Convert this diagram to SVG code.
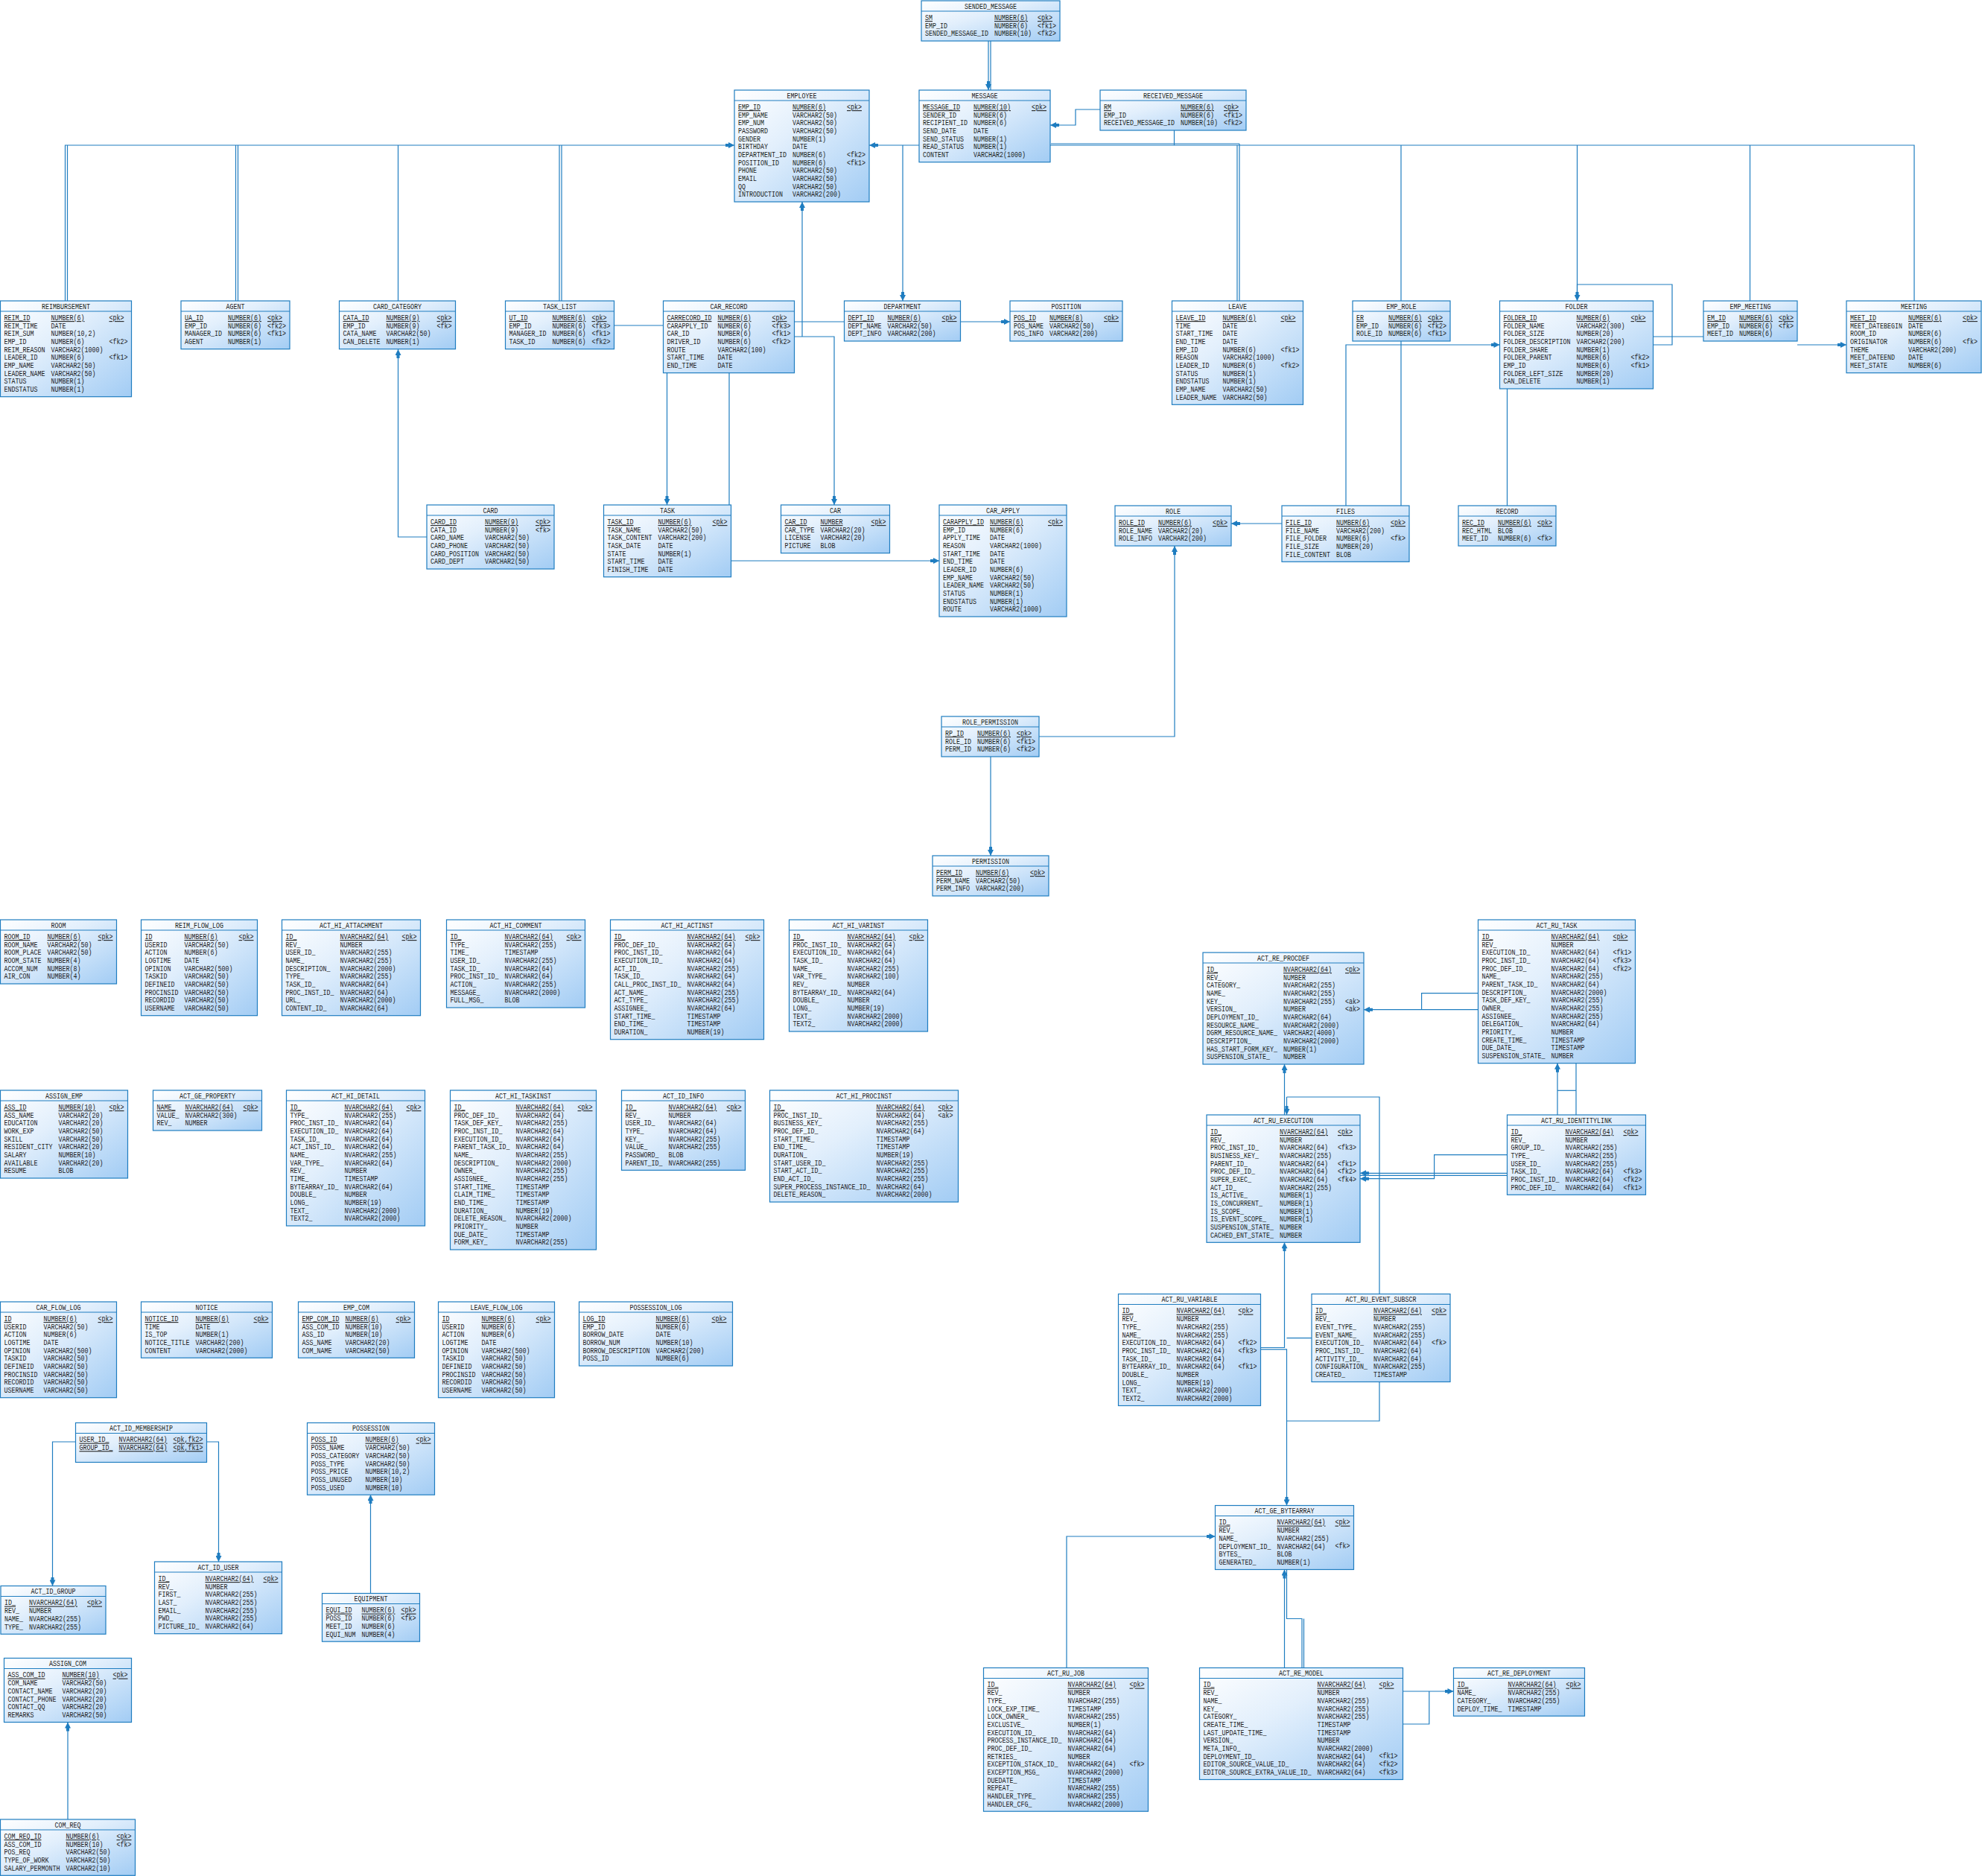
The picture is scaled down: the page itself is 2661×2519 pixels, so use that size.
<svg xmlns="http://www.w3.org/2000/svg" width="2661" height="2519" viewBox="0 0 2661 2519">
<style>
.tb rect.b{fill:url(#gb);stroke:#1f7dc0;stroke-width:1.2}
.tb line{stroke:#1f7dc0;stroke-width:1.2}
.tb text{font-family:"Liberation Mono","DejaVu Sans Mono",monospace;font-size:10.5px;fill:#1c1c1c;transform-box:fill-box;transform-origin:0 0;transform:scaleX(0.794)}
.tb text.h{text-anchor:middle;transform-origin:50% 0}
.u{text-decoration:underline}
#connectors path{fill:none;stroke:#1f7dc0;stroke-width:1.2}
</style>
<defs>
<linearGradient id="gb" x1="0" y1="0" x2="1" y2="1">
<stop offset="0" stop-color="#ffffff"/><stop offset="0.4" stop-color="#e2effc"/><stop offset="1" stop-color="#a2ccf4"/>
</linearGradient>
<marker id="ar" viewBox="0 0 12 8" refX="12" refY="4" markerWidth="12" markerHeight="8" markerUnits="userSpaceOnUse" orient="auto">
<path d="M0,2 H4 V0 L12,4 L4,8 V6 H0 z" fill="#1f7dc0"/>
</marker>
</defs>
<rect width="2661" height="2519" fill="#ffffff"/>

<g id="connectors">
<!-- employee bus, left side -->
<path d="M87.5,404 V195 H986" marker-end="url(#ar)"/>
<path d="M90.5,404 V195"/>
<path d="M316.5,404 V195"/>
<path d="M319.5,404 V195"/>
<path d="M534.5,404 V195"/>
<path d="M751,404 V195"/>
<path d="M754,404 V195"/>
<!-- employee bus, right side -->
<path d="M2570,404 V195 H1167" marker-end="url(#ar)"/>
<path d="M1411,193 H1664"/>
<path d="M1212,195 V404" marker-end="url(#ar)"/>
<path d="M1661,195 V404"/>
<path d="M1664,193 V404"/>
<path d="M1881,195 V404"/>
<path d="M2117.5,195 V404" marker-end="url(#ar)"/>
<path d="M2349.5,195 V404"/>
<path d="M1576.5,175 V195"/>
<!-- messages -->
<path d="M1327,55 V121" marker-end="url(#ar)"/>
<path d="M1330,55 V121"/>
<path d="M1477,147 H1444 V168 H1410" marker-end="url(#ar)"/>
<!-- employee bottom / car record -->
<path d="M1077,452 V271" marker-end="url(#ar)"/>
<path d="M1067,432 H1356" marker-end="url(#ar)"/>
<path d="M1067,452 H1120 V678" marker-end="url(#ar)"/>
<path d="M823,437 H895.5 V678" marker-end="url(#ar)"/>
<path d="M979,500 V753 H1261" marker-end="url(#ar)"/>
<path d="M573,721 H534.5 V469" marker-end="url(#ar)"/>
<!-- roles, files, folders, meetings -->
<path d="M1881,458 V703 H1653" marker-end="url(#ar)"/>
<path d="M1395,989 H1577 V733" marker-end="url(#ar)"/>
<path d="M1330,1016 V1149" marker-end="url(#ar)"/>
<path d="M1807,679 V463 H2013.5" marker-end="url(#ar)"/>
<path d="M2219.5,463 H2245 V382 H2117.5 V404"/>
<path d="M2023.5,679 V452 H2287"/>
<path d="M2413,463 H2479" marker-end="url(#ar)"/>
<!-- identity tables, possessions, companies -->
<path d="M101.5,1936 H70.5 V2129.5" marker-end="url(#ar)"/>
<path d="M277.5,1936 H293.5 V2097" marker-end="url(#ar)"/>
<path d="M497.5,2139.5 V2007" marker-end="url(#ar)"/>
<path d="M91,2443 V2312.5" marker-end="url(#ar)"/>
<!-- runtime / repository tables -->
<path d="M1984.5,1355.7 H1831" marker-end="url(#ar)"/>
<path d="M1984.5,1333.7 H1908.6 V1355.7"/>
<path d="M1724.5,1497 V1429" marker-end="url(#ar)"/>
<path d="M1727.5,1473 V1497" marker-end="url(#ar)"/>
<path d="M1852,1737.5 V1473 H1727.5"/>
<path d="M2023.5,1575.3 H1826" marker-end="url(#ar)"/>
<path d="M2023.5,1578.3 H1826"/>
<path d="M2023.5,1550.7 H1925.6 V1582.7 H1826" marker-end="url(#ar)"/>
<path d="M2091,1497 V1427.7" marker-end="url(#ar)"/>
<path d="M2116,1427.7 V1497"/>
<path d="M2091,1464.3 H2116"/>
<path d="M1692.5,1809.5 H1724.5 V1668.3" marker-end="url(#ar)"/>
<path d="M1692.5,1811.8 H1727.5 V2021.5" marker-end="url(#ar)"/>
<path d="M1761,1796.7 H1727.5"/>
<path d="M1852,1855.5 V1908 H1727.5"/>
<path d="M1432,2239.5 V2063 H1631.5" marker-end="url(#ar)"/>
<path d="M1724.5,2239.5 V2107.5" marker-end="url(#ar)"/>
<path d="M1748,2239.5 V2173.5 H1727.5 V2107.5"/>
<path d="M1750.5,2239.5 V2173.5"/>
<path d="M1883.5,2271 H1951.5" marker-end="url(#ar)"/>
<path d="M1883.5,2315 H1918.8 V2271"/>
</g>

<g id="sended_message" class="tb" transform="translate(1237,1)">
<rect class="b" width="186" height="54"/><line y1="14" x2="186" y2="14"/>
<text class="h" x="93" y="10.8">SENDED_MESSAGE</text>
<text x="5" y="26"><tspan class="u">SM</tspan><tspan x="5" dy="10.67">EMP_ID</tspan><tspan x="5" dy="10.67">SENDED_MESSAGE_ID</tspan></text>
<text x="98" y="26"><tspan class="u">NUMBER(6)</tspan><tspan x="98" dy="10.67">NUMBER(6)</tspan><tspan x="98" dy="10.67">NUMBER(10)</tspan></text>
<text x="156" y="26"><tspan class="u">&lt;pk&gt;</tspan><tspan x="156" dy="10.67">&lt;fk1&gt;</tspan><tspan x="156" dy="10.67">&lt;fk2&gt;</tspan></text>
</g>

<g id="employee" class="tb" transform="translate(986,121)">
<rect class="b" width="181" height="150"/><line y1="14" x2="181" y2="14"/>
<text class="h" x="90.5" y="10.8">EMPLOYEE</text>
<text x="5" y="26"><tspan class="u">EMP_ID</tspan><tspan x="5" dy="10.67">EMP_NAME</tspan><tspan x="5" dy="10.67">EMP_NUM</tspan><tspan x="5" dy="10.67">PASSWORD</tspan><tspan x="5" dy="10.67">GENDER</tspan><tspan x="5" dy="10.67">BIRTHDAY</tspan><tspan x="5" dy="10.67">DEPARTMENT_ID</tspan><tspan x="5" dy="10.67">POSITION_ID</tspan><tspan x="5" dy="10.67">PHONE</tspan><tspan x="5" dy="10.67">EMAIL</tspan><tspan x="5" dy="10.67">QQ</tspan><tspan x="5" dy="10.67">INTRODUCTION</tspan></text>
<text x="78" y="26"><tspan class="u">NUMBER(6)</tspan><tspan x="78" dy="10.67">VARCHAR2(50)</tspan><tspan x="78" dy="10.67">VARCHAR2(50)</tspan><tspan x="78" dy="10.67">VARCHAR2(50)</tspan><tspan x="78" dy="10.67">NUMBER(1)</tspan><tspan x="78" dy="10.67">DATE</tspan><tspan x="78" dy="10.67">NUMBER(6)</tspan><tspan x="78" dy="10.67">NUMBER(6)</tspan><tspan x="78" dy="10.67">VARCHAR2(50)</tspan><tspan x="78" dy="10.67">VARCHAR2(50)</tspan><tspan x="78" dy="10.67">VARCHAR2(50)</tspan><tspan x="78" dy="10.67">VARCHAR2(200)</tspan></text>
<text x="151" y="26"><tspan class="u">&lt;pk&gt;</tspan><tspan x="151" y="90">&lt;fk2&gt;</tspan><tspan x="151" y="100.67">&lt;fk1&gt;</tspan></text>
</g>

<g id="message" class="tb" transform="translate(1234,121)">
<rect class="b" width="176" height="96.7"/><line y1="14" x2="176" y2="14"/>
<text class="h" x="88" y="10.8">MESSAGE</text>
<text x="5" y="26"><tspan class="u">MESSAGE_ID</tspan><tspan x="5" dy="10.67">SENDER_ID</tspan><tspan x="5" dy="10.67">RECIPIENT_ID</tspan><tspan x="5" dy="10.67">SEND_DATE</tspan><tspan x="5" dy="10.67">SEND_STATUS</tspan><tspan x="5" dy="10.67">READ_STATUS</tspan><tspan x="5" dy="10.67">CONTENT</tspan></text>
<text x="73" y="26"><tspan class="u">NUMBER(10)</tspan><tspan x="73" dy="10.67">NUMBER(6)</tspan><tspan x="73" dy="10.67">NUMBER(6)</tspan><tspan x="73" dy="10.67">DATE</tspan><tspan x="73" dy="10.67">NUMBER(1)</tspan><tspan x="73" dy="10.67">NUMBER(1)</tspan><tspan x="73" dy="10.67">VARCHAR2(1000)</tspan></text>
<text x="151" y="26"><tspan class="u">&lt;pk&gt;</tspan></text>
</g>

<g id="received_message" class="tb" transform="translate(1477,121)">
<rect class="b" width="196" height="54"/><line y1="14" x2="196" y2="14"/>
<text class="h" x="98" y="10.8">RECEIVED_MESSAGE</text>
<text x="5" y="26"><tspan class="u">RM</tspan><tspan x="5" dy="10.67">EMP_ID</tspan><tspan x="5" dy="10.67">RECEIVED_MESSAGE_ID</tspan></text>
<text x="108" y="26"><tspan class="u">NUMBER(6)</tspan><tspan x="108" dy="10.67">NUMBER(6)</tspan><tspan x="108" dy="10.67">NUMBER(10)</tspan></text>
<text x="166" y="26"><tspan class="u">&lt;pk&gt;</tspan><tspan x="166" dy="10.67">&lt;fk1&gt;</tspan><tspan x="166" dy="10.67">&lt;fk2&gt;</tspan></text>
</g>

<g id="reimbursement" class="tb" transform="translate(0.5,404)">
<rect class="b" width="176" height="128.7"/><line y1="14" x2="176" y2="14"/>
<text class="h" x="88" y="10.8">REIMBURSEMENT</text>
<text x="5" y="26"><tspan class="u">REIM_ID</tspan><tspan x="5" dy="10.67">REIM_TIME</tspan><tspan x="5" dy="10.67">REIM_SUM</tspan><tspan x="5" dy="10.67">EMP_ID</tspan><tspan x="5" dy="10.67">REIM_REASON</tspan><tspan x="5" dy="10.67">LEADER_ID</tspan><tspan x="5" dy="10.67">EMP_NAME</tspan><tspan x="5" dy="10.67">LEADER_NAME</tspan><tspan x="5" dy="10.67">STATUS</tspan><tspan x="5" dy="10.67">ENDSTATUS</tspan></text>
<text x="68" y="26"><tspan class="u">NUMBER(6)</tspan><tspan x="68" dy="10.67">DATE</tspan><tspan x="68" dy="10.67">NUMBER(10,2)</tspan><tspan x="68" dy="10.67">NUMBER(6)</tspan><tspan x="68" dy="10.67">VARCHAR2(1000)</tspan><tspan x="68" dy="10.67">NUMBER(6)</tspan><tspan x="68" dy="10.67">VARCHAR2(50)</tspan><tspan x="68" dy="10.67">VARCHAR2(50)</tspan><tspan x="68" dy="10.67">NUMBER(1)</tspan><tspan x="68" dy="10.67">NUMBER(1)</tspan></text>
<text x="146" y="26"><tspan class="u">&lt;pk&gt;</tspan><tspan x="146" y="58">&lt;fk2&gt;</tspan><tspan x="146" y="79.33">&lt;fk1&gt;</tspan></text>
</g>

<g id="agent" class="tb" transform="translate(243,404)">
<rect class="b" width="146" height="64.7"/><line y1="14" x2="146" y2="14"/>
<text class="h" x="73" y="10.8">AGENT</text>
<text x="5" y="26"><tspan class="u">UA_ID</tspan><tspan x="5" dy="10.67">EMP_ID</tspan><tspan x="5" dy="10.67">MANAGER_ID</tspan><tspan x="5" dy="10.67">AGENT</tspan></text>
<text x="63" y="26"><tspan class="u">NUMBER(6)</tspan><tspan x="63" dy="10.67">NUMBER(6)</tspan><tspan x="63" dy="10.67">NUMBER(6)</tspan><tspan x="63" dy="10.67">NUMBER(1)</tspan></text>
<text x="116" y="26"><tspan class="u">&lt;pk&gt;</tspan><tspan x="116" dy="10.67">&lt;fk2&gt;</tspan><tspan x="116" dy="10.67">&lt;fk1&gt;</tspan></text>
</g>

<g id="card_category" class="tb" transform="translate(455.5,404)">
<rect class="b" width="156" height="64.7"/><line y1="14" x2="156" y2="14"/>
<text class="h" x="78" y="10.8">CARD_CATEGORY</text>
<text x="5" y="26"><tspan class="u">CATA_ID</tspan><tspan x="5" dy="10.67">EMP_ID</tspan><tspan x="5" dy="10.67">CATA_NAME</tspan><tspan x="5" dy="10.67">CAN_DELETE</tspan></text>
<text x="63" y="26"><tspan class="u">NUMBER(9)</tspan><tspan x="63" dy="10.67">NUMBER(9)</tspan><tspan x="63" dy="10.67">VARCHAR2(50)</tspan><tspan x="63" dy="10.67">NUMBER(1)</tspan></text>
<text x="131" y="26"><tspan class="u">&lt;pk&gt;</tspan><tspan x="131" dy="10.67">&lt;fk&gt;</tspan></text>
</g>

<g id="task_list" class="tb" transform="translate(678.5,404)">
<rect class="b" width="146" height="64.7"/><line y1="14" x2="146" y2="14"/>
<text class="h" x="73" y="10.8">TASK_LIST</text>
<text x="5" y="26"><tspan class="u">UT_ID</tspan><tspan x="5" dy="10.67">EMP_ID</tspan><tspan x="5" dy="10.67">MANAGER_ID</tspan><tspan x="5" dy="10.67">TASK_ID</tspan></text>
<text x="63" y="26"><tspan class="u">NUMBER(6)</tspan><tspan x="63" dy="10.67">NUMBER(6)</tspan><tspan x="63" dy="10.67">NUMBER(6)</tspan><tspan x="63" dy="10.67">NUMBER(6)</tspan></text>
<text x="116" y="26"><tspan class="u">&lt;pk&gt;</tspan><tspan x="116" dy="10.67">&lt;fk3&gt;</tspan><tspan x="116" dy="10.67">&lt;fk1&gt;</tspan><tspan x="116" dy="10.67">&lt;fk2&gt;</tspan></text>
</g>

<g id="car_record" class="tb" transform="translate(890.5,404)">
<rect class="b" width="176" height="96.7"/><line y1="14" x2="176" y2="14"/>
<text class="h" x="88" y="10.8">CAR_RECORD</text>
<text x="5" y="26"><tspan class="u">CARRECORD_ID</tspan><tspan x="5" dy="10.67">CARAPPLY_ID</tspan><tspan x="5" dy="10.67">CAR_ID</tspan><tspan x="5" dy="10.67">DRIVER_ID</tspan><tspan x="5" dy="10.67">ROUTE</tspan><tspan x="5" dy="10.67">START_TIME</tspan><tspan x="5" dy="10.67">END_TIME</tspan></text>
<text x="73" y="26"><tspan class="u">NUMBER(6)</tspan><tspan x="73" dy="10.67">NUMBER(6)</tspan><tspan x="73" dy="10.67">NUMBER(6)</tspan><tspan x="73" dy="10.67">NUMBER(6)</tspan><tspan x="73" dy="10.67">VARCHAR2(100)</tspan><tspan x="73" dy="10.67">DATE</tspan><tspan x="73" dy="10.67">DATE</tspan></text>
<text x="146" y="26"><tspan class="u">&lt;pk&gt;</tspan><tspan x="146" dy="10.67">&lt;fk3&gt;</tspan><tspan x="146" dy="10.67">&lt;fk1&gt;</tspan><tspan x="146" dy="10.67">&lt;fk2&gt;</tspan></text>
</g>

<g id="department" class="tb" transform="translate(1133.5,404)">
<rect class="b" width="156" height="54"/><line y1="14" x2="156" y2="14"/>
<text class="h" x="78" y="10.8">DEPARTMENT</text>
<text x="5" y="26"><tspan class="u">DEPT_ID</tspan><tspan x="5" dy="10.67">DEPT_NAME</tspan><tspan x="5" dy="10.67">DEPT_INFO</tspan></text>
<text x="58" y="26"><tspan class="u">NUMBER(6)</tspan><tspan x="58" dy="10.67">VARCHAR2(50)</tspan><tspan x="58" dy="10.67">VARCHAR2(200)</tspan></text>
<text x="131" y="26"><tspan class="u">&lt;pk&gt;</tspan></text>
</g>

<g id="position" class="tb" transform="translate(1356,404)">
<rect class="b" width="151" height="54"/><line y1="14" x2="151" y2="14"/>
<text class="h" x="75.5" y="10.8">POSITION</text>
<text x="5" y="26"><tspan class="u">POS_ID</tspan><tspan x="5" dy="10.67">POS_NAME</tspan><tspan x="5" dy="10.67">POS_INFO</tspan></text>
<text x="53" y="26"><tspan class="u">NUMBER(8)</tspan><tspan x="53" dy="10.67">VARCHAR2(50)</tspan><tspan x="53" dy="10.67">VARCHAR2(200)</tspan></text>
<text x="126" y="26"><tspan class="u">&lt;pk&gt;</tspan></text>
</g>

<g id="leave" class="tb" transform="translate(1573.5,404)">
<rect class="b" width="176" height="139.3"/><line y1="14" x2="176" y2="14"/>
<text class="h" x="88" y="10.8">LEAVE</text>
<text x="5" y="26"><tspan class="u">LEAVE_ID</tspan><tspan x="5" dy="10.67">TIME</tspan><tspan x="5" dy="10.67">START_TIME</tspan><tspan x="5" dy="10.67">END_TIME</tspan><tspan x="5" dy="10.67">EMP_ID</tspan><tspan x="5" dy="10.67">REASON</tspan><tspan x="5" dy="10.67">LEADER_ID</tspan><tspan x="5" dy="10.67">STATUS</tspan><tspan x="5" dy="10.67">ENDSTATUS</tspan><tspan x="5" dy="10.67">EMP_NAME</tspan><tspan x="5" dy="10.67">LEADER_NAME</tspan></text>
<text x="68" y="26"><tspan class="u">NUMBER(6)</tspan><tspan x="68" dy="10.67">DATE</tspan><tspan x="68" dy="10.67">DATE</tspan><tspan x="68" dy="10.67">DATE</tspan><tspan x="68" dy="10.67">NUMBER(6)</tspan><tspan x="68" dy="10.67">VARCHAR2(1000)</tspan><tspan x="68" dy="10.67">NUMBER(6)</tspan><tspan x="68" dy="10.67">NUMBER(1)</tspan><tspan x="68" dy="10.67">NUMBER(1)</tspan><tspan x="68" dy="10.67">VARCHAR2(50)</tspan><tspan x="68" dy="10.67">VARCHAR2(50)</tspan></text>
<text x="146" y="26"><tspan class="u">&lt;pk&gt;</tspan><tspan x="146" y="68.67">&lt;fk1&gt;</tspan><tspan x="146" y="90">&lt;fk2&gt;</tspan></text>
</g>

<g id="emp_role" class="tb" transform="translate(1816,404)">
<rect class="b" width="131" height="54"/><line y1="14" x2="131" y2="14"/>
<text class="h" x="65.5" y="10.8">EMP_ROLE</text>
<text x="5" y="26"><tspan class="u">ER</tspan><tspan x="5" dy="10.67">EMP_ID</tspan><tspan x="5" dy="10.67">ROLE_ID</tspan></text>
<text x="48" y="26"><tspan class="u">NUMBER(6)</tspan><tspan x="48" dy="10.67">NUMBER(6)</tspan><tspan x="48" dy="10.67">NUMBER(6)</tspan></text>
<text x="101" y="26"><tspan class="u">&lt;pk&gt;</tspan><tspan x="101" dy="10.67">&lt;fk2&gt;</tspan><tspan x="101" dy="10.67">&lt;fk1&gt;</tspan></text>
</g>

<g id="folder" class="tb" transform="translate(2013.5,404)">
<rect class="b" width="206" height="118"/><line y1="14" x2="206" y2="14"/>
<text class="h" x="103" y="10.8">FOLDER</text>
<text x="5" y="26"><tspan class="u">FOLDER_ID</tspan><tspan x="5" dy="10.67">FOLDER_NAME</tspan><tspan x="5" dy="10.67">FOLDER_SIZE</tspan><tspan x="5" dy="10.67">FOLDER_DESCRIPTION</tspan><tspan x="5" dy="10.67">FOLDER_SHARE</tspan><tspan x="5" dy="10.67">FOLDER_PARENT</tspan><tspan x="5" dy="10.67">EMP_ID</tspan><tspan x="5" dy="10.67">FOLDER_LEFT_SIZE</tspan><tspan x="5" dy="10.67">CAN_DELETE</tspan></text>
<text x="103" y="26"><tspan class="u">NUMBER(6)</tspan><tspan x="103" dy="10.67">VARCHAR2(300)</tspan><tspan x="103" dy="10.67">NUMBER(20)</tspan><tspan x="103" dy="10.67">VARCHAR2(200)</tspan><tspan x="103" dy="10.67">NUMBER(1)</tspan><tspan x="103" dy="10.67">NUMBER(6)</tspan><tspan x="103" dy="10.67">NUMBER(6)</tspan><tspan x="103" dy="10.67">NUMBER(20)</tspan><tspan x="103" dy="10.67">NUMBER(1)</tspan></text>
<text x="176" y="26"><tspan class="u">&lt;pk&gt;</tspan><tspan x="176" y="79.33">&lt;fk2&gt;</tspan><tspan x="176" y="90">&lt;fk1&gt;</tspan></text>
</g>

<g id="emp_meeting" class="tb" transform="translate(2287,404)">
<rect class="b" width="126" height="54"/><line y1="14" x2="126" y2="14"/>
<text class="h" x="63" y="10.8">EMP_MEETING</text>
<text x="5" y="26"><tspan class="u">EM_ID</tspan><tspan x="5" dy="10.67">EMP_ID</tspan><tspan x="5" dy="10.67">MEET_ID</tspan></text>
<text x="48" y="26"><tspan class="u">NUMBER(6)</tspan><tspan x="48" dy="10.67">NUMBER(6)</tspan><tspan x="48" dy="10.67">NUMBER(6)</tspan></text>
<text x="101" y="26"><tspan class="u">&lt;pk&gt;</tspan><tspan x="101" dy="10.67">&lt;fk&gt;</tspan></text>
</g>

<g id="meeting" class="tb" transform="translate(2479,404)">
<rect class="b" width="181" height="96.7"/><line y1="14" x2="181" y2="14"/>
<text class="h" x="90.5" y="10.8">MEETING</text>
<text x="5" y="26"><tspan class="u">MEET_ID</tspan><tspan x="5" dy="10.67">MEET_DATEBEGIN</tspan><tspan x="5" dy="10.67">ROOM_ID</tspan><tspan x="5" dy="10.67">ORIGINATOR</tspan><tspan x="5" dy="10.67">THEME</tspan><tspan x="5" dy="10.67">MEET_DATEEND</tspan><tspan x="5" dy="10.67">MEET_STATE</tspan></text>
<text x="83" y="26"><tspan class="u">NUMBER(6)</tspan><tspan x="83" dy="10.67">DATE</tspan><tspan x="83" dy="10.67">NUMBER(6)</tspan><tspan x="83" dy="10.67">NUMBER(6)</tspan><tspan x="83" dy="10.67">VARCHAR2(200)</tspan><tspan x="83" dy="10.67">DATE</tspan><tspan x="83" dy="10.67">NUMBER(6)</tspan></text>
<text x="156" y="26"><tspan class="u">&lt;pk&gt;</tspan><tspan x="156" y="58">&lt;fk&gt;</tspan></text>
</g>

<g id="card" class="tb" transform="translate(573,678)">
<rect class="b" width="171" height="86"/><line y1="14" x2="171" y2="14"/>
<text class="h" x="85.5" y="10.8">CARD</text>
<text x="5" y="26"><tspan class="u">CARD_ID</tspan><tspan x="5" dy="10.67">CATA_ID</tspan><tspan x="5" dy="10.67">CARD_NAME</tspan><tspan x="5" dy="10.67">CARD_PHONE</tspan><tspan x="5" dy="10.67">CARD_POSITION</tspan><tspan x="5" dy="10.67">CARD_DEPT</tspan></text>
<text x="78" y="26"><tspan class="u">NUMBER(9)</tspan><tspan x="78" dy="10.67">NUMBER(9)</tspan><tspan x="78" dy="10.67">VARCHAR2(50)</tspan><tspan x="78" dy="10.67">VARCHAR2(50)</tspan><tspan x="78" dy="10.67">VARCHAR2(50)</tspan><tspan x="78" dy="10.67">VARCHAR2(50)</tspan></text>
<text x="146" y="26"><tspan class="u">&lt;pk&gt;</tspan><tspan x="146" dy="10.67">&lt;fk&gt;</tspan></text>
</g>

<g id="task" class="tb" transform="translate(810.5,678)">
<rect class="b" width="171" height="96.7"/><line y1="14" x2="171" y2="14"/>
<text class="h" x="85.5" y="10.8">TASK</text>
<text x="5" y="26"><tspan class="u">TASK_ID</tspan><tspan x="5" dy="10.67">TASK_NAME</tspan><tspan x="5" dy="10.67">TASK_CONTENT</tspan><tspan x="5" dy="10.67">TASK_DATE</tspan><tspan x="5" dy="10.67">STATE</tspan><tspan x="5" dy="10.67">START_TIME</tspan><tspan x="5" dy="10.67">FINISH_TIME</tspan></text>
<text x="73" y="26"><tspan class="u">NUMBER(6)</tspan><tspan x="73" dy="10.67">VARCHAR2(50)</tspan><tspan x="73" dy="10.67">VARCHAR2(200)</tspan><tspan x="73" dy="10.67">DATE</tspan><tspan x="73" dy="10.67">NUMBER(1)</tspan><tspan x="73" dy="10.67">DATE</tspan><tspan x="73" dy="10.67">DATE</tspan></text>
<text x="146" y="26"><tspan class="u">&lt;pk&gt;</tspan></text>
</g>

<g id="car" class="tb" transform="translate(1048.5,678)">
<rect class="b" width="146" height="64.7"/><line y1="14" x2="146" y2="14"/>
<text class="h" x="73" y="10.8">CAR</text>
<text x="5" y="26"><tspan class="u">CAR_ID</tspan><tspan x="5" dy="10.67">CAR_TYPE</tspan><tspan x="5" dy="10.67">LICENSE</tspan><tspan x="5" dy="10.67">PICTURE</tspan></text>
<text x="53" y="26"><tspan class="u">NUMBER</tspan><tspan x="53" dy="10.67">VARCHAR2(20)</tspan><tspan x="53" dy="10.67">VARCHAR2(20)</tspan><tspan x="53" dy="10.67">BLOB</tspan></text>
<text x="121" y="26"><tspan class="u">&lt;pk&gt;</tspan></text>
</g>

<g id="car_apply" class="tb" transform="translate(1261,678)">
<rect class="b" width="171" height="150"/><line y1="14" x2="171" y2="14"/>
<text class="h" x="85.5" y="10.8">CAR_APPLY</text>
<text x="5" y="26"><tspan class="u">CARAPPLY_ID</tspan><tspan x="5" dy="10.67">EMP_ID</tspan><tspan x="5" dy="10.67">APPLY_TIME</tspan><tspan x="5" dy="10.67">REASON</tspan><tspan x="5" dy="10.67">START_TIME</tspan><tspan x="5" dy="10.67">END_TIME</tspan><tspan x="5" dy="10.67">LEADER_ID</tspan><tspan x="5" dy="10.67">EMP_NAME</tspan><tspan x="5" dy="10.67">LEADER_NAME</tspan><tspan x="5" dy="10.67">STATUS</tspan><tspan x="5" dy="10.67">ENDSTATUS</tspan><tspan x="5" dy="10.67">ROUTE</tspan></text>
<text x="68" y="26"><tspan class="u">NUMBER(6)</tspan><tspan x="68" dy="10.67">NUMBER(6)</tspan><tspan x="68" dy="10.67">DATE</tspan><tspan x="68" dy="10.67">VARCHAR2(1000)</tspan><tspan x="68" dy="10.67">DATE</tspan><tspan x="68" dy="10.67">DATE</tspan><tspan x="68" dy="10.67">NUMBER(6)</tspan><tspan x="68" dy="10.67">VARCHAR2(50)</tspan><tspan x="68" dy="10.67">VARCHAR2(50)</tspan><tspan x="68" dy="10.67">NUMBER(1)</tspan><tspan x="68" dy="10.67">NUMBER(1)</tspan><tspan x="68" dy="10.67">VARCHAR2(1000)</tspan></text>
<text x="146" y="26"><tspan class="u">&lt;pk&gt;</tspan></text>
</g>

<g id="role" class="tb" transform="translate(1497,679)">
<rect class="b" width="156" height="54"/><line y1="14" x2="156" y2="14"/>
<text class="h" x="78" y="10.8">ROLE</text>
<text x="5" y="26"><tspan class="u">ROLE_ID</tspan><tspan x="5" dy="10.67">ROLE_NAME</tspan><tspan x="5" dy="10.67">ROLE_INFO</tspan></text>
<text x="58" y="26"><tspan class="u">NUMBER(6)</tspan><tspan x="58" dy="10.67">VARCHAR2(20)</tspan><tspan x="58" dy="10.67">VARCHAR2(200)</tspan></text>
<text x="131" y="26"><tspan class="u">&lt;pk&gt;</tspan></text>
</g>

<g id="files" class="tb" transform="translate(1721,679)">
<rect class="b" width="171" height="75.3"/><line y1="14" x2="171" y2="14"/>
<text class="h" x="85.5" y="10.8">FILES</text>
<text x="5" y="26"><tspan class="u">FILE_ID</tspan><tspan x="5" dy="10.67">FILE_NAME</tspan><tspan x="5" dy="10.67">FILE_FOLDER</tspan><tspan x="5" dy="10.67">FILE_SIZE</tspan><tspan x="5" dy="10.67">FILE_CONTENT</tspan></text>
<text x="73" y="26"><tspan class="u">NUMBER(6)</tspan><tspan x="73" dy="10.67">VARCHAR2(200)</tspan><tspan x="73" dy="10.67">NUMBER(6)</tspan><tspan x="73" dy="10.67">NUMBER(20)</tspan><tspan x="73" dy="10.67">BLOB</tspan></text>
<text x="146" y="26"><tspan class="u">&lt;pk&gt;</tspan><tspan x="146" y="47.33">&lt;fk&gt;</tspan></text>
</g>

<g id="record" class="tb" transform="translate(1958,679)">
<rect class="b" width="131" height="54"/><line y1="14" x2="131" y2="14"/>
<text class="h" x="65.5" y="10.8">RECORD</text>
<text x="5" y="26"><tspan class="u">REC_ID</tspan><tspan x="5" dy="10.67">REC_HTML</tspan><tspan x="5" dy="10.67">MEET_ID</tspan></text>
<text x="53" y="26"><tspan class="u">NUMBER(6)</tspan><tspan x="53" dy="10.67">BLOB</tspan><tspan x="53" dy="10.67">NUMBER(6)</tspan></text>
<text x="106" y="26"><tspan class="u">&lt;pk&gt;</tspan><tspan x="106" y="47.33">&lt;fk&gt;</tspan></text>
</g>

<g id="role_permission" class="tb" transform="translate(1264,962)">
<rect class="b" width="131" height="54"/><line y1="14" x2="131" y2="14"/>
<text class="h" x="65.5" y="10.8">ROLE_PERMISSION</text>
<text x="5" y="26"><tspan class="u">RP_ID</tspan><tspan x="5" dy="10.67">ROLE_ID</tspan><tspan x="5" dy="10.67">PERM_ID</tspan></text>
<text x="48" y="26"><tspan class="u">NUMBER(6)</tspan><tspan x="48" dy="10.67">NUMBER(6)</tspan><tspan x="48" dy="10.67">NUMBER(6)</tspan></text>
<text x="101" y="26"><tspan class="u">&lt;pk&gt;</tspan><tspan x="101" dy="10.67">&lt;fk1&gt;</tspan><tspan x="101" dy="10.67">&lt;fk2&gt;</tspan></text>
</g>

<g id="permission" class="tb" transform="translate(1252,1149)">
<rect class="b" width="156" height="54"/><line y1="14" x2="156" y2="14"/>
<text class="h" x="78" y="10.8">PERMISSION</text>
<text x="5" y="26"><tspan class="u">PERM_ID</tspan><tspan x="5" dy="10.67">PERM_NAME</tspan><tspan x="5" dy="10.67">PERM_INFO</tspan></text>
<text x="58" y="26"><tspan class="u">NUMBER(6)</tspan><tspan x="58" dy="10.67">VARCHAR2(50)</tspan><tspan x="58" dy="10.67">VARCHAR2(200)</tspan></text>
<text x="131" y="26"><tspan class="u">&lt;pk&gt;</tspan></text>
</g>

<g id="room" class="tb" transform="translate(0.5,1235)">
<rect class="b" width="156" height="86"/><line y1="14" x2="156" y2="14"/>
<text class="h" x="78" y="10.8">ROOM</text>
<text x="5" y="26"><tspan class="u">ROOM_ID</tspan><tspan x="5" dy="10.67">ROOM_NAME</tspan><tspan x="5" dy="10.67">ROOM_PLACE</tspan><tspan x="5" dy="10.67">ROOM_STATE</tspan><tspan x="5" dy="10.67">ACCOM_NUM</tspan><tspan x="5" dy="10.67">AIR_CON</tspan></text>
<text x="63" y="26"><tspan class="u">NUMBER(6)</tspan><tspan x="63" dy="10.67">VARCHAR2(50)</tspan><tspan x="63" dy="10.67">VARCHAR2(50)</tspan><tspan x="63" dy="10.67">NUMBER(4)</tspan><tspan x="63" dy="10.67">NUMBER(8)</tspan><tspan x="63" dy="10.67">NUMBER(4)</tspan></text>
<text x="131" y="26"><tspan class="u">&lt;pk&gt;</tspan></text>
</g>

<g id="reim_flow_log" class="tb" transform="translate(189.5,1235)">
<rect class="b" width="156" height="128.7"/><line y1="14" x2="156" y2="14"/>
<text class="h" x="78" y="10.8">REIM_FLOW_LOG</text>
<text x="5" y="26"><tspan class="u">ID</tspan><tspan x="5" dy="10.67">USERID</tspan><tspan x="5" dy="10.67">ACTION</tspan><tspan x="5" dy="10.67">LOGTIME</tspan><tspan x="5" dy="10.67">OPINION</tspan><tspan x="5" dy="10.67">TASKID</tspan><tspan x="5" dy="10.67">DEFINEID</tspan><tspan x="5" dy="10.67">PROCINSID</tspan><tspan x="5" dy="10.67">RECORDID</tspan><tspan x="5" dy="10.67">USERNAME</tspan></text>
<text x="58" y="26"><tspan class="u">NUMBER(6)</tspan><tspan x="58" dy="10.67">VARCHAR2(50)</tspan><tspan x="58" dy="10.67">NUMBER(6)</tspan><tspan x="58" dy="10.67">DATE</tspan><tspan x="58" dy="10.67">VARCHAR2(500)</tspan><tspan x="58" dy="10.67">VARCHAR2(50)</tspan><tspan x="58" dy="10.67">VARCHAR2(50)</tspan><tspan x="58" dy="10.67">VARCHAR2(50)</tspan><tspan x="58" dy="10.67">VARCHAR2(50)</tspan><tspan x="58" dy="10.67">VARCHAR2(50)</tspan></text>
<text x="131" y="26"><tspan class="u">&lt;pk&gt;</tspan></text>
</g>

<g id="act_hi_attachment" class="tb" transform="translate(378.5,1235)">
<rect class="b" width="186" height="128.7"/><line y1="14" x2="186" y2="14"/>
<text class="h" x="93" y="10.8">ACT_HI_ATTACHMENT</text>
<text x="5" y="26"><tspan class="u">ID_</tspan><tspan x="5" dy="10.67">REV_</tspan><tspan x="5" dy="10.67">USER_ID_</tspan><tspan x="5" dy="10.67">NAME_</tspan><tspan x="5" dy="10.67">DESCRIPTION_</tspan><tspan x="5" dy="10.67">TYPE_</tspan><tspan x="5" dy="10.67">TASK_ID_</tspan><tspan x="5" dy="10.67">PROC_INST_ID_</tspan><tspan x="5" dy="10.67">URL_</tspan><tspan x="5" dy="10.67">CONTENT_ID_</tspan></text>
<text x="78" y="26"><tspan class="u">NVARCHAR2(64)</tspan><tspan x="78" dy="10.67">NUMBER</tspan><tspan x="78" dy="10.67">NVARCHAR2(255)</tspan><tspan x="78" dy="10.67">NVARCHAR2(255)</tspan><tspan x="78" dy="10.67">NVARCHAR2(2000)</tspan><tspan x="78" dy="10.67">NVARCHAR2(255)</tspan><tspan x="78" dy="10.67">NVARCHAR2(64)</tspan><tspan x="78" dy="10.67">NVARCHAR2(64)</tspan><tspan x="78" dy="10.67">NVARCHAR2(2000)</tspan><tspan x="78" dy="10.67">NVARCHAR2(64)</tspan></text>
<text x="161" y="26"><tspan class="u">&lt;pk&gt;</tspan></text>
</g>

<g id="act_hi_comment" class="tb" transform="translate(599.5,1235)">
<rect class="b" width="186" height="118"/><line y1="14" x2="186" y2="14"/>
<text class="h" x="93" y="10.8">ACT_HI_COMMENT</text>
<text x="5" y="26"><tspan class="u">ID_</tspan><tspan x="5" dy="10.67">TYPE_</tspan><tspan x="5" dy="10.67">TIME_</tspan><tspan x="5" dy="10.67">USER_ID_</tspan><tspan x="5" dy="10.67">TASK_ID_</tspan><tspan x="5" dy="10.67">PROC_INST_ID_</tspan><tspan x="5" dy="10.67">ACTION_</tspan><tspan x="5" dy="10.67">MESSAGE_</tspan><tspan x="5" dy="10.67">FULL_MSG_</tspan></text>
<text x="78" y="26"><tspan class="u">NVARCHAR2(64)</tspan><tspan x="78" dy="10.67">NVARCHAR2(255)</tspan><tspan x="78" dy="10.67">TIMESTAMP</tspan><tspan x="78" dy="10.67">NVARCHAR2(255)</tspan><tspan x="78" dy="10.67">NVARCHAR2(64)</tspan><tspan x="78" dy="10.67">NVARCHAR2(64)</tspan><tspan x="78" dy="10.67">NVARCHAR2(255)</tspan><tspan x="78" dy="10.67">NVARCHAR2(2000)</tspan><tspan x="78" dy="10.67">BLOB</tspan></text>
<text x="161" y="26"><tspan class="u">&lt;pk&gt;</tspan></text>
</g>

<g id="act_hi_actinst" class="tb" transform="translate(819.5,1235)">
<rect class="b" width="206" height="160.7"/><line y1="14" x2="206" y2="14"/>
<text class="h" x="103" y="10.8">ACT_HI_ACTINST</text>
<text x="5" y="26"><tspan class="u">ID_</tspan><tspan x="5" dy="10.67">PROC_DEF_ID_</tspan><tspan x="5" dy="10.67">PROC_INST_ID_</tspan><tspan x="5" dy="10.67">EXECUTION_ID_</tspan><tspan x="5" dy="10.67">ACT_ID_</tspan><tspan x="5" dy="10.67">TASK_ID_</tspan><tspan x="5" dy="10.67">CALL_PROC_INST_ID_</tspan><tspan x="5" dy="10.67">ACT_NAME_</tspan><tspan x="5" dy="10.67">ACT_TYPE_</tspan><tspan x="5" dy="10.67">ASSIGNEE_</tspan><tspan x="5" dy="10.67">START_TIME_</tspan><tspan x="5" dy="10.67">END_TIME_</tspan><tspan x="5" dy="10.67">DURATION_</tspan></text>
<text x="103" y="26"><tspan class="u">NVARCHAR2(64)</tspan><tspan x="103" dy="10.67">NVARCHAR2(64)</tspan><tspan x="103" dy="10.67">NVARCHAR2(64)</tspan><tspan x="103" dy="10.67">NVARCHAR2(64)</tspan><tspan x="103" dy="10.67">NVARCHAR2(255)</tspan><tspan x="103" dy="10.67">NVARCHAR2(64)</tspan><tspan x="103" dy="10.67">NVARCHAR2(64)</tspan><tspan x="103" dy="10.67">NVARCHAR2(255)</tspan><tspan x="103" dy="10.67">NVARCHAR2(255)</tspan><tspan x="103" dy="10.67">NVARCHAR2(64)</tspan><tspan x="103" dy="10.67">TIMESTAMP</tspan><tspan x="103" dy="10.67">TIMESTAMP</tspan><tspan x="103" dy="10.67">NUMBER(19)</tspan></text>
<text x="181" y="26"><tspan class="u">&lt;pk&gt;</tspan></text>
</g>

<g id="act_hi_varinst" class="tb" transform="translate(1059.5,1235)">
<rect class="b" width="186" height="150"/><line y1="14" x2="186" y2="14"/>
<text class="h" x="93" y="10.8">ACT_HI_VARINST</text>
<text x="5" y="26"><tspan class="u">ID_</tspan><tspan x="5" dy="10.67">PROC_INST_ID_</tspan><tspan x="5" dy="10.67">EXECUTION_ID_</tspan><tspan x="5" dy="10.67">TASK_ID_</tspan><tspan x="5" dy="10.67">NAME_</tspan><tspan x="5" dy="10.67">VAR_TYPE_</tspan><tspan x="5" dy="10.67">REV_</tspan><tspan x="5" dy="10.67">BYTEARRAY_ID_</tspan><tspan x="5" dy="10.67">DOUBLE_</tspan><tspan x="5" dy="10.67">LONG_</tspan><tspan x="5" dy="10.67">TEXT_</tspan><tspan x="5" dy="10.67">TEXT2_</tspan></text>
<text x="78" y="26"><tspan class="u">NVARCHAR2(64)</tspan><tspan x="78" dy="10.67">NVARCHAR2(64)</tspan><tspan x="78" dy="10.67">NVARCHAR2(64)</tspan><tspan x="78" dy="10.67">NVARCHAR2(64)</tspan><tspan x="78" dy="10.67">NVARCHAR2(255)</tspan><tspan x="78" dy="10.67">NVARCHAR2(100)</tspan><tspan x="78" dy="10.67">NUMBER</tspan><tspan x="78" dy="10.67">NVARCHAR2(64)</tspan><tspan x="78" dy="10.67">NUMBER</tspan><tspan x="78" dy="10.67">NUMBER(19)</tspan><tspan x="78" dy="10.67">NVARCHAR2(2000)</tspan><tspan x="78" dy="10.67">NVARCHAR2(2000)</tspan></text>
<text x="161" y="26"><tspan class="u">&lt;pk&gt;</tspan></text>
</g>

<g id="assign_emp" class="tb" transform="translate(0.5,1464)">
<rect class="b" width="171" height="118"/><line y1="14" x2="171" y2="14"/>
<text class="h" x="85.5" y="10.8">ASSIGN_EMP</text>
<text x="5" y="26"><tspan class="u">ASS_ID</tspan><tspan x="5" dy="10.67">ASS_NAME</tspan><tspan x="5" dy="10.67">EDUCATION</tspan><tspan x="5" dy="10.67">WORK_EXP</tspan><tspan x="5" dy="10.67">SKILL</tspan><tspan x="5" dy="10.67">RESIDENT_CITY</tspan><tspan x="5" dy="10.67">SALARY</tspan><tspan x="5" dy="10.67">AVAILABLE</tspan><tspan x="5" dy="10.67">RESUME</tspan></text>
<text x="78" y="26"><tspan class="u">NUMBER(10)</tspan><tspan x="78" dy="10.67">VARCHAR2(20)</tspan><tspan x="78" dy="10.67">VARCHAR2(20)</tspan><tspan x="78" dy="10.67">VARCHAR2(50)</tspan><tspan x="78" dy="10.67">VARCHAR2(50)</tspan><tspan x="78" dy="10.67">VARCHAR2(20)</tspan><tspan x="78" dy="10.67">NUMBER(10)</tspan><tspan x="78" dy="10.67">VARCHAR2(20)</tspan><tspan x="78" dy="10.67">BLOB</tspan></text>
<text x="146" y="26"><tspan class="u">&lt;pk&gt;</tspan></text>
</g>

<g id="act_ge_property" class="tb" transform="translate(205.5,1464)">
<rect class="b" width="146" height="54"/><line y1="14" x2="146" y2="14"/>
<text class="h" x="73" y="10.8">ACT_GE_PROPERTY</text>
<text x="5" y="26"><tspan class="u">NAME_</tspan><tspan x="5" dy="10.67">VALUE_</tspan><tspan x="5" dy="10.67">REV_</tspan></text>
<text x="43" y="26"><tspan class="u">NVARCHAR2(64)</tspan><tspan x="43" dy="10.67">NVARCHAR2(300)</tspan><tspan x="43" dy="10.67">NUMBER</tspan></text>
<text x="121" y="26"><tspan class="u">&lt;pk&gt;</tspan></text>
</g>

<g id="act_hi_detail" class="tb" transform="translate(384.5,1464)">
<rect class="b" width="186" height="182"/><line y1="14" x2="186" y2="14"/>
<text class="h" x="93" y="10.8">ACT_HI_DETAIL</text>
<text x="5" y="26"><tspan class="u">ID_</tspan><tspan x="5" dy="10.67">TYPE_</tspan><tspan x="5" dy="10.67">PROC_INST_ID_</tspan><tspan x="5" dy="10.67">EXECUTION_ID_</tspan><tspan x="5" dy="10.67">TASK_ID_</tspan><tspan x="5" dy="10.67">ACT_INST_ID_</tspan><tspan x="5" dy="10.67">NAME_</tspan><tspan x="5" dy="10.67">VAR_TYPE_</tspan><tspan x="5" dy="10.67">REV_</tspan><tspan x="5" dy="10.67">TIME_</tspan><tspan x="5" dy="10.67">BYTEARRAY_ID_</tspan><tspan x="5" dy="10.67">DOUBLE_</tspan><tspan x="5" dy="10.67">LONG_</tspan><tspan x="5" dy="10.67">TEXT_</tspan><tspan x="5" dy="10.67">TEXT2_</tspan></text>
<text x="78" y="26"><tspan class="u">NVARCHAR2(64)</tspan><tspan x="78" dy="10.67">NVARCHAR2(255)</tspan><tspan x="78" dy="10.67">NVARCHAR2(64)</tspan><tspan x="78" dy="10.67">NVARCHAR2(64)</tspan><tspan x="78" dy="10.67">NVARCHAR2(64)</tspan><tspan x="78" dy="10.67">NVARCHAR2(64)</tspan><tspan x="78" dy="10.67">NVARCHAR2(255)</tspan><tspan x="78" dy="10.67">NVARCHAR2(64)</tspan><tspan x="78" dy="10.67">NUMBER</tspan><tspan x="78" dy="10.67">TIMESTAMP</tspan><tspan x="78" dy="10.67">NVARCHAR2(64)</tspan><tspan x="78" dy="10.67">NUMBER</tspan><tspan x="78" dy="10.67">NUMBER(19)</tspan><tspan x="78" dy="10.67">NVARCHAR2(2000)</tspan><tspan x="78" dy="10.67">NVARCHAR2(2000)</tspan></text>
<text x="161" y="26"><tspan class="u">&lt;pk&gt;</tspan></text>
</g>

<g id="act_hi_taskinst" class="tb" transform="translate(604.5,1464)">
<rect class="b" width="196" height="214"/><line y1="14" x2="196" y2="14"/>
<text class="h" x="98" y="10.8">ACT_HI_TASKINST</text>
<text x="5" y="26"><tspan class="u">ID_</tspan><tspan x="5" dy="10.67">PROC_DEF_ID_</tspan><tspan x="5" dy="10.67">TASK_DEF_KEY_</tspan><tspan x="5" dy="10.67">PROC_INST_ID_</tspan><tspan x="5" dy="10.67">EXECUTION_ID_</tspan><tspan x="5" dy="10.67">PARENT_TASK_ID_</tspan><tspan x="5" dy="10.67">NAME_</tspan><tspan x="5" dy="10.67">DESCRIPTION_</tspan><tspan x="5" dy="10.67">OWNER_</tspan><tspan x="5" dy="10.67">ASSIGNEE_</tspan><tspan x="5" dy="10.67">START_TIME_</tspan><tspan x="5" dy="10.67">CLAIM_TIME_</tspan><tspan x="5" dy="10.67">END_TIME_</tspan><tspan x="5" dy="10.67">DURATION_</tspan><tspan x="5" dy="10.67">DELETE_REASON_</tspan><tspan x="5" dy="10.67">PRIORITY_</tspan><tspan x="5" dy="10.67">DUE_DATE_</tspan><tspan x="5" dy="10.67">FORM_KEY_</tspan></text>
<text x="88" y="26"><tspan class="u">NVARCHAR2(64)</tspan><tspan x="88" dy="10.67">NVARCHAR2(64)</tspan><tspan x="88" dy="10.67">NVARCHAR2(255)</tspan><tspan x="88" dy="10.67">NVARCHAR2(64)</tspan><tspan x="88" dy="10.67">NVARCHAR2(64)</tspan><tspan x="88" dy="10.67">NVARCHAR2(64)</tspan><tspan x="88" dy="10.67">NVARCHAR2(255)</tspan><tspan x="88" dy="10.67">NVARCHAR2(2000)</tspan><tspan x="88" dy="10.67">NVARCHAR2(255)</tspan><tspan x="88" dy="10.67">NVARCHAR2(255)</tspan><tspan x="88" dy="10.67">TIMESTAMP</tspan><tspan x="88" dy="10.67">TIMESTAMP</tspan><tspan x="88" dy="10.67">TIMESTAMP</tspan><tspan x="88" dy="10.67">NUMBER(19)</tspan><tspan x="88" dy="10.67">NVARCHAR2(2000)</tspan><tspan x="88" dy="10.67">NUMBER</tspan><tspan x="88" dy="10.67">TIMESTAMP</tspan><tspan x="88" dy="10.67">NVARCHAR2(255)</tspan></text>
<text x="171" y="26"><tspan class="u">&lt;pk&gt;</tspan></text>
</g>

<g id="act_id_info" class="tb" transform="translate(834.5,1464)">
<rect class="b" width="166" height="107.3"/><line y1="14" x2="166" y2="14"/>
<text class="h" x="83" y="10.8">ACT_ID_INFO</text>
<text x="5" y="26"><tspan class="u">ID_</tspan><tspan x="5" dy="10.67">REV_</tspan><tspan x="5" dy="10.67">USER_ID_</tspan><tspan x="5" dy="10.67">TYPE_</tspan><tspan x="5" dy="10.67">KEY_</tspan><tspan x="5" dy="10.67">VALUE_</tspan><tspan x="5" dy="10.67">PASSWORD_</tspan><tspan x="5" dy="10.67">PARENT_ID_</tspan></text>
<text x="63" y="26"><tspan class="u">NVARCHAR2(64)</tspan><tspan x="63" dy="10.67">NUMBER</tspan><tspan x="63" dy="10.67">NVARCHAR2(64)</tspan><tspan x="63" dy="10.67">NVARCHAR2(64)</tspan><tspan x="63" dy="10.67">NVARCHAR2(255)</tspan><tspan x="63" dy="10.67">NVARCHAR2(255)</tspan><tspan x="63" dy="10.67">BLOB</tspan><tspan x="63" dy="10.67">NVARCHAR2(255)</tspan></text>
<text x="141" y="26"><tspan class="u">&lt;pk&gt;</tspan></text>
</g>

<g id="act_hi_procinst" class="tb" transform="translate(1033.5,1464)">
<rect class="b" width="253" height="150"/><line y1="14" x2="253" y2="14"/>
<text class="h" x="126.5" y="10.8">ACT_HI_PROCINST</text>
<text x="5" y="26"><tspan class="u">ID_</tspan><tspan x="5" dy="10.67">PROC_INST_ID_</tspan><tspan x="5" dy="10.67">BUSINESS_KEY_</tspan><tspan x="5" dy="10.67">PROC_DEF_ID_</tspan><tspan x="5" dy="10.67">START_TIME_</tspan><tspan x="5" dy="10.67">END_TIME_</tspan><tspan x="5" dy="10.67">DURATION_</tspan><tspan x="5" dy="10.67">START_USER_ID_</tspan><tspan x="5" dy="10.67">START_ACT_ID_</tspan><tspan x="5" dy="10.67">END_ACT_ID_</tspan><tspan x="5" dy="10.67">SUPER_PROCESS_INSTANCE_ID_</tspan><tspan x="5" dy="10.67">DELETE_REASON_</tspan></text>
<text x="143" y="26"><tspan class="u">NVARCHAR2(64)</tspan><tspan x="143" dy="10.67">NVARCHAR2(64)</tspan><tspan x="143" dy="10.67">NVARCHAR2(255)</tspan><tspan x="143" dy="10.67">NVARCHAR2(64)</tspan><tspan x="143" dy="10.67">TIMESTAMP</tspan><tspan x="143" dy="10.67">TIMESTAMP</tspan><tspan x="143" dy="10.67">NUMBER(19)</tspan><tspan x="143" dy="10.67">NVARCHAR2(255)</tspan><tspan x="143" dy="10.67">NVARCHAR2(255)</tspan><tspan x="143" dy="10.67">NVARCHAR2(255)</tspan><tspan x="143" dy="10.67">NVARCHAR2(64)</tspan><tspan x="143" dy="10.67">NVARCHAR2(2000)</tspan></text>
<text x="226" y="26"><tspan class="u">&lt;pk&gt;</tspan><tspan x="226" dy="10.67">&lt;ak&gt;</tspan></text>
</g>

<g id="car_flow_log" class="tb" transform="translate(0.5,1748)">
<rect class="b" width="156" height="128.7"/><line y1="14" x2="156" y2="14"/>
<text class="h" x="78" y="10.8">CAR_FLOW_LOG</text>
<text x="5" y="26"><tspan class="u">ID</tspan><tspan x="5" dy="10.67">USERID</tspan><tspan x="5" dy="10.67">ACTION</tspan><tspan x="5" dy="10.67">LOGTIME</tspan><tspan x="5" dy="10.67">OPINION</tspan><tspan x="5" dy="10.67">TASKID</tspan><tspan x="5" dy="10.67">DEFINEID</tspan><tspan x="5" dy="10.67">PROCINSID</tspan><tspan x="5" dy="10.67">RECORDID</tspan><tspan x="5" dy="10.67">USERNAME</tspan></text>
<text x="58" y="26"><tspan class="u">NUMBER(6)</tspan><tspan x="58" dy="10.67">VARCHAR2(50)</tspan><tspan x="58" dy="10.67">NUMBER(6)</tspan><tspan x="58" dy="10.67">DATE</tspan><tspan x="58" dy="10.67">VARCHAR2(500)</tspan><tspan x="58" dy="10.67">VARCHAR2(50)</tspan><tspan x="58" dy="10.67">VARCHAR2(50)</tspan><tspan x="58" dy="10.67">VARCHAR2(50)</tspan><tspan x="58" dy="10.67">VARCHAR2(50)</tspan><tspan x="58" dy="10.67">VARCHAR2(50)</tspan></text>
<text x="131" y="26"><tspan class="u">&lt;pk&gt;</tspan></text>
</g>

<g id="notice" class="tb" transform="translate(189.5,1748)">
<rect class="b" width="176" height="75.3"/><line y1="14" x2="176" y2="14"/>
<text class="h" x="88" y="10.8">NOTICE</text>
<text x="5" y="26"><tspan class="u">NOTICE_ID</tspan><tspan x="5" dy="10.67">TIME</tspan><tspan x="5" dy="10.67">IS_TOP</tspan><tspan x="5" dy="10.67">NOTICE_TITLE</tspan><tspan x="5" dy="10.67">CONTENT</tspan></text>
<text x="73" y="26"><tspan class="u">NUMBER(6)</tspan><tspan x="73" dy="10.67">DATE</tspan><tspan x="73" dy="10.67">NUMBER(1)</tspan><tspan x="73" dy="10.67">VARCHAR2(200)</tspan><tspan x="73" dy="10.67">VARCHAR2(2000)</tspan></text>
<text x="151" y="26"><tspan class="u">&lt;pk&gt;</tspan></text>
</g>

<g id="emp_com" class="tb" transform="translate(400.5,1748)">
<rect class="b" width="156" height="75.3"/><line y1="14" x2="156" y2="14"/>
<text class="h" x="78" y="10.8">EMP_COM</text>
<text x="5" y="26"><tspan class="u">EMP_COM_ID</tspan><tspan x="5" dy="10.67">ASS_COM_ID</tspan><tspan x="5" dy="10.67">ASS_ID</tspan><tspan x="5" dy="10.67">ASS_NAME</tspan><tspan x="5" dy="10.67">COM_NAME</tspan></text>
<text x="63" y="26"><tspan class="u">NUMBER(6)</tspan><tspan x="63" dy="10.67">NUMBER(10)</tspan><tspan x="63" dy="10.67">NUMBER(10)</tspan><tspan x="63" dy="10.67">VARCHAR2(20)</tspan><tspan x="63" dy="10.67">VARCHAR2(50)</tspan></text>
<text x="131" y="26"><tspan class="u">&lt;pk&gt;</tspan></text>
</g>

<g id="leave_flow_log" class="tb" transform="translate(588.5,1748)">
<rect class="b" width="156" height="128.7"/><line y1="14" x2="156" y2="14"/>
<text class="h" x="78" y="10.8">LEAVE_FLOW_LOG</text>
<text x="5" y="26"><tspan class="u">ID</tspan><tspan x="5" dy="10.67">USERID</tspan><tspan x="5" dy="10.67">ACTION</tspan><tspan x="5" dy="10.67">LOGTIME</tspan><tspan x="5" dy="10.67">OPINION</tspan><tspan x="5" dy="10.67">TASKID</tspan><tspan x="5" dy="10.67">DEFINEID</tspan><tspan x="5" dy="10.67">PROCINSID</tspan><tspan x="5" dy="10.67">RECORDID</tspan><tspan x="5" dy="10.67">USERNAME</tspan></text>
<text x="58" y="26"><tspan class="u">NUMBER(6)</tspan><tspan x="58" dy="10.67">NUMBER(6)</tspan><tspan x="58" dy="10.67">NUMBER(6)</tspan><tspan x="58" dy="10.67">DATE</tspan><tspan x="58" dy="10.67">VARCHAR2(500)</tspan><tspan x="58" dy="10.67">VARCHAR2(50)</tspan><tspan x="58" dy="10.67">VARCHAR2(50)</tspan><tspan x="58" dy="10.67">VARCHAR2(50)</tspan><tspan x="58" dy="10.67">VARCHAR2(50)</tspan><tspan x="58" dy="10.67">VARCHAR2(50)</tspan></text>
<text x="131" y="26"><tspan class="u">&lt;pk&gt;</tspan></text>
</g>

<g id="possession_log" class="tb" transform="translate(777.5,1748)">
<rect class="b" width="206" height="86"/><line y1="14" x2="206" y2="14"/>
<text class="h" x="103" y="10.8">POSSESSION_LOG</text>
<text x="5" y="26"><tspan class="u">LOG_ID</tspan><tspan x="5" dy="10.67">EMP_ID</tspan><tspan x="5" dy="10.67">BORROW_DATE</tspan><tspan x="5" dy="10.67">BORROW_NUM</tspan><tspan x="5" dy="10.67">BORROW_DESCRIPTION</tspan><tspan x="5" dy="10.67">POSS_ID</tspan></text>
<text x="103" y="26"><tspan class="u">NUMBER(6)</tspan><tspan x="103" dy="10.67">NUMBER(6)</tspan><tspan x="103" dy="10.67">DATE</tspan><tspan x="103" dy="10.67">NUMBER(10)</tspan><tspan x="103" dy="10.67">VARCHAR2(200)</tspan><tspan x="103" dy="10.67">NUMBER(6)</tspan></text>
<text x="178" y="26"><tspan class="u">&lt;pk&gt;</tspan></text>
</g>

<g id="act_id_membership" class="tb" transform="translate(101.5,1910.5)">
<rect class="b" width="176" height="53"/><line y1="14" x2="176" y2="14"/>
<text class="h" x="88" y="10.8">ACT_ID_MEMBERSHIP</text>
<text x="5" y="26"><tspan class="u">USER_ID_</tspan><tspan class="u" x="5" dy="10.67">GROUP_ID_</tspan></text>
<text x="58" y="26"><tspan class="u">NVARCHAR2(64)</tspan><tspan class="u" x="58" dy="10.67">NVARCHAR2(64)</tspan></text>
<text x="131" y="26"><tspan class="u">&lt;pk,fk2&gt;</tspan><tspan class="u" x="131" dy="10.67">&lt;pk,fk1&gt;</tspan></text>
</g>

<g id="possession" class="tb" transform="translate(412.5,1910.5)">
<rect class="b" width="171" height="96.7"/><line y1="14" x2="171" y2="14"/>
<text class="h" x="85.5" y="10.8">POSSESSION</text>
<text x="5" y="26"><tspan class="u">POSS_ID</tspan><tspan x="5" dy="10.67">POSS_NAME</tspan><tspan x="5" dy="10.67">POSS_CATEGORY</tspan><tspan x="5" dy="10.67">POSS_TYPE</tspan><tspan x="5" dy="10.67">POSS_PRICE</tspan><tspan x="5" dy="10.67">POSS_UNUSED</tspan><tspan x="5" dy="10.67">POSS_USED</tspan></text>
<text x="78" y="26"><tspan class="u">NUMBER(6)</tspan><tspan x="78" dy="10.67">VARCHAR2(50)</tspan><tspan x="78" dy="10.67">VARCHAR2(50)</tspan><tspan x="78" dy="10.67">VARCHAR2(50)</tspan><tspan x="78" dy="10.67">NUMBER(10,2)</tspan><tspan x="78" dy="10.67">NUMBER(10)</tspan><tspan x="78" dy="10.67">NUMBER(10)</tspan></text>
<text x="146" y="26"><tspan class="u">&lt;pk&gt;</tspan></text>
</g>

<g id="act_id_group" class="tb" transform="translate(1,2129.5)">
<rect class="b" width="141" height="64.7"/><line y1="14" x2="141" y2="14"/>
<text class="h" x="70.5" y="10.8">ACT_ID_GROUP</text>
<text x="5" y="26"><tspan class="u">ID_</tspan><tspan x="5" dy="10.67">REV_</tspan><tspan x="5" dy="10.67">NAME_</tspan><tspan x="5" dy="10.67">TYPE_</tspan></text>
<text x="38" y="26"><tspan class="u">NVARCHAR2(64)</tspan><tspan x="38" dy="10.67">NUMBER</tspan><tspan x="38" dy="10.67">NVARCHAR2(255)</tspan><tspan x="38" dy="10.67">NVARCHAR2(255)</tspan></text>
<text x="116" y="26"><tspan class="u">&lt;pk&gt;</tspan></text>
</g>

<g id="act_id_user" class="tb" transform="translate(207.5,2097)">
<rect class="b" width="171" height="96.7"/><line y1="14" x2="171" y2="14"/>
<text class="h" x="85.5" y="10.8">ACT_ID_USER</text>
<text x="5" y="26"><tspan class="u">ID_</tspan><tspan x="5" dy="10.67">REV_</tspan><tspan x="5" dy="10.67">FIRST_</tspan><tspan x="5" dy="10.67">LAST_</tspan><tspan x="5" dy="10.67">EMAIL_</tspan><tspan x="5" dy="10.67">PWD_</tspan><tspan x="5" dy="10.67">PICTURE_ID_</tspan></text>
<text x="68" y="26"><tspan class="u">NVARCHAR2(64)</tspan><tspan x="68" dy="10.67">NUMBER</tspan><tspan x="68" dy="10.67">NVARCHAR2(255)</tspan><tspan x="68" dy="10.67">NVARCHAR2(255)</tspan><tspan x="68" dy="10.67">NVARCHAR2(255)</tspan><tspan x="68" dy="10.67">NVARCHAR2(255)</tspan><tspan x="68" dy="10.67">NVARCHAR2(64)</tspan></text>
<text x="146" y="26"><tspan class="u">&lt;pk&gt;</tspan></text>
</g>

<g id="equipment" class="tb" transform="translate(432.5,2139.5)">
<rect class="b" width="131" height="64.7"/><line y1="14" x2="131" y2="14"/>
<text class="h" x="65.5" y="10.8">EQUIPMENT</text>
<text x="5" y="26"><tspan class="u">EQUI_ID</tspan><tspan x="5" dy="10.67">POSS_ID</tspan><tspan x="5" dy="10.67">MEET_ID</tspan><tspan x="5" dy="10.67">EQUI_NUM</tspan></text>
<text x="53" y="26"><tspan class="u">NUMBER(6)</tspan><tspan x="53" dy="10.67">NUMBER(6)</tspan><tspan x="53" dy="10.67">NUMBER(6)</tspan><tspan x="53" dy="10.67">NUMBER(4)</tspan></text>
<text x="106" y="26"><tspan class="u">&lt;pk&gt;</tspan><tspan x="106" dy="10.67">&lt;fk&gt;</tspan></text>
</g>

<g id="assign_com" class="tb" transform="translate(5.5,2226.5)">
<rect class="b" width="171" height="86"/><line y1="14" x2="171" y2="14"/>
<text class="h" x="85.5" y="10.8">ASSIGN_COM</text>
<text x="5" y="26"><tspan class="u">ASS_COM_ID</tspan><tspan x="5" dy="10.67">COM_NAME</tspan><tspan x="5" dy="10.67">CONTACT_NAME</tspan><tspan x="5" dy="10.67">CONTACT_PHONE</tspan><tspan x="5" dy="10.67">CONTACT_QQ</tspan><tspan x="5" dy="10.67">REMARKS</tspan></text>
<text x="78" y="26"><tspan class="u">NUMBER(10)</tspan><tspan x="78" dy="10.67">VARCHAR2(50)</tspan><tspan x="78" dy="10.67">VARCHAR2(20)</tspan><tspan x="78" dy="10.67">VARCHAR2(20)</tspan><tspan x="78" dy="10.67">VARCHAR2(20)</tspan><tspan x="78" dy="10.67">VARCHAR2(50)</tspan></text>
<text x="146" y="26"><tspan class="u">&lt;pk&gt;</tspan></text>
</g>

<g id="com_req" class="tb" transform="translate(0.5,2443)">
<rect class="b" width="181" height="75.3"/><line y1="14" x2="181" y2="14"/>
<text class="h" x="90.5" y="10.8">COM_REQ</text>
<text x="5" y="26"><tspan class="u">COM_REQ_ID</tspan><tspan x="5" dy="10.67">ASS_COM_ID</tspan><tspan x="5" dy="10.67">POS_REQ</tspan><tspan x="5" dy="10.67">TYPE_OF_WORK</tspan><tspan x="5" dy="10.67">SALARY_PERMONTH</tspan></text>
<text x="88" y="26"><tspan class="u">NUMBER(6)</tspan><tspan x="88" dy="10.67">NUMBER(10)</tspan><tspan x="88" dy="10.67">VARCHAR2(50)</tspan><tspan x="88" dy="10.67">VARCHAR2(50)</tspan><tspan x="88" dy="10.67">VARCHAR2(10)</tspan></text>
<text x="156" y="26"><tspan class="u">&lt;pk&gt;</tspan><tspan x="156" dy="10.67">&lt;fk&gt;</tspan></text>
</g>

<g id="act_re_procdef" class="tb" transform="translate(1615,1279)">
<rect class="b" width="216" height="150"/><line y1="14" x2="216" y2="14"/>
<text class="h" x="108" y="10.8">ACT_RE_PROCDEF</text>
<text x="5" y="26"><tspan class="u">ID_</tspan><tspan x="5" dy="10.67">REV_</tspan><tspan x="5" dy="10.67">CATEGORY_</tspan><tspan x="5" dy="10.67">NAME_</tspan><tspan x="5" dy="10.67">KEY_</tspan><tspan x="5" dy="10.67">VERSION_</tspan><tspan x="5" dy="10.67">DEPLOYMENT_ID_</tspan><tspan x="5" dy="10.67">RESOURCE_NAME_</tspan><tspan x="5" dy="10.67">DGRM_RESOURCE_NAME_</tspan><tspan x="5" dy="10.67">DESCRIPTION_</tspan><tspan x="5" dy="10.67">HAS_START_FORM_KEY_</tspan><tspan x="5" dy="10.67">SUSPENSION_STATE_</tspan></text>
<text x="108" y="26"><tspan class="u">NVARCHAR2(64)</tspan><tspan x="108" dy="10.67">NUMBER</tspan><tspan x="108" dy="10.67">NVARCHAR2(255)</tspan><tspan x="108" dy="10.67">NVARCHAR2(255)</tspan><tspan x="108" dy="10.67">NVARCHAR2(255)</tspan><tspan x="108" dy="10.67">NUMBER</tspan><tspan x="108" dy="10.67">NVARCHAR2(64)</tspan><tspan x="108" dy="10.67">NVARCHAR2(2000)</tspan><tspan x="108" dy="10.67">VARCHAR2(4000)</tspan><tspan x="108" dy="10.67">NVARCHAR2(2000)</tspan><tspan x="108" dy="10.67">NUMBER(1)</tspan><tspan x="108" dy="10.67">NUMBER</tspan></text>
<text x="191" y="26"><tspan class="u">&lt;pk&gt;</tspan><tspan x="191" y="68.67">&lt;ak&gt;</tspan><tspan x="191" y="79.33">&lt;ak&gt;</tspan></text>
</g>

<g id="act_ru_task" class="tb" transform="translate(1984.5,1235)">
<rect class="b" width="211" height="192.7"/><line y1="14" x2="211" y2="14"/>
<text class="h" x="105.5" y="10.8">ACT_RU_TASK</text>
<text x="5" y="26"><tspan class="u">ID_</tspan><tspan x="5" dy="10.67">REV_</tspan><tspan x="5" dy="10.67">EXECUTION_ID_</tspan><tspan x="5" dy="10.67">PROC_INST_ID_</tspan><tspan x="5" dy="10.67">PROC_DEF_ID_</tspan><tspan x="5" dy="10.67">NAME_</tspan><tspan x="5" dy="10.67">PARENT_TASK_ID_</tspan><tspan x="5" dy="10.67">DESCRIPTION_</tspan><tspan x="5" dy="10.67">TASK_DEF_KEY_</tspan><tspan x="5" dy="10.67">OWNER_</tspan><tspan x="5" dy="10.67">ASSIGNEE_</tspan><tspan x="5" dy="10.67">DELEGATION_</tspan><tspan x="5" dy="10.67">PRIORITY_</tspan><tspan x="5" dy="10.67">CREATE_TIME_</tspan><tspan x="5" dy="10.67">DUE_DATE_</tspan><tspan x="5" dy="10.67">SUSPENSION_STATE_</tspan></text>
<text x="98" y="26"><tspan class="u">NVARCHAR2(64)</tspan><tspan x="98" dy="10.67">NUMBER</tspan><tspan x="98" dy="10.67">NVARCHAR2(64)</tspan><tspan x="98" dy="10.67">NVARCHAR2(64)</tspan><tspan x="98" dy="10.67">NVARCHAR2(64)</tspan><tspan x="98" dy="10.67">NVARCHAR2(255)</tspan><tspan x="98" dy="10.67">NVARCHAR2(64)</tspan><tspan x="98" dy="10.67">NVARCHAR2(2000)</tspan><tspan x="98" dy="10.67">NVARCHAR2(255)</tspan><tspan x="98" dy="10.67">NVARCHAR2(255)</tspan><tspan x="98" dy="10.67">NVARCHAR2(255)</tspan><tspan x="98" dy="10.67">NVARCHAR2(64)</tspan><tspan x="98" dy="10.67">NUMBER</tspan><tspan x="98" dy="10.67">TIMESTAMP</tspan><tspan x="98" dy="10.67">TIMESTAMP</tspan><tspan x="98" dy="10.67">NUMBER</tspan></text>
<text x="181" y="26"><tspan class="u">&lt;pk&gt;</tspan><tspan x="181" y="47.33">&lt;fk1&gt;</tspan><tspan x="181" y="58">&lt;fk3&gt;</tspan><tspan x="181" y="68.67">&lt;fk2&gt;</tspan></text>
</g>

<g id="act_ru_execution" class="tb" transform="translate(1620,1497)">
<rect class="b" width="206" height="171.3"/><line y1="14" x2="206" y2="14"/>
<text class="h" x="103" y="10.8">ACT_RU_EXECUTION</text>
<text x="5" y="26"><tspan class="u">ID_</tspan><tspan x="5" dy="10.67">REV_</tspan><tspan x="5" dy="10.67">PROC_INST_ID_</tspan><tspan x="5" dy="10.67">BUSINESS_KEY_</tspan><tspan x="5" dy="10.67">PARENT_ID_</tspan><tspan x="5" dy="10.67">PROC_DEF_ID_</tspan><tspan x="5" dy="10.67">SUPER_EXEC_</tspan><tspan x="5" dy="10.67">ACT_ID_</tspan><tspan x="5" dy="10.67">IS_ACTIVE_</tspan><tspan x="5" dy="10.67">IS_CONCURRENT_</tspan><tspan x="5" dy="10.67">IS_SCOPE_</tspan><tspan x="5" dy="10.67">IS_EVENT_SCOPE_</tspan><tspan x="5" dy="10.67">SUSPENSION_STATE_</tspan><tspan x="5" dy="10.67">CACHED_ENT_STATE_</tspan></text>
<text x="98" y="26"><tspan class="u">NVARCHAR2(64)</tspan><tspan x="98" dy="10.67">NUMBER</tspan><tspan x="98" dy="10.67">NVARCHAR2(64)</tspan><tspan x="98" dy="10.67">NVARCHAR2(255)</tspan><tspan x="98" dy="10.67">NVARCHAR2(64)</tspan><tspan x="98" dy="10.67">NVARCHAR2(64)</tspan><tspan x="98" dy="10.67">NVARCHAR2(64)</tspan><tspan x="98" dy="10.67">NVARCHAR2(255)</tspan><tspan x="98" dy="10.67">NUMBER(1)</tspan><tspan x="98" dy="10.67">NUMBER(1)</tspan><tspan x="98" dy="10.67">NUMBER(1)</tspan><tspan x="98" dy="10.67">NUMBER(1)</tspan><tspan x="98" dy="10.67">NUMBER</tspan><tspan x="98" dy="10.67">NUMBER</tspan></text>
<text x="176" y="26"><tspan class="u">&lt;pk&gt;</tspan><tspan x="176" y="47.33">&lt;fk3&gt;</tspan><tspan x="176" y="68.67">&lt;fk1&gt;</tspan><tspan x="176" y="79.33">&lt;fk2&gt;</tspan><tspan x="176" y="90">&lt;fk4&gt;</tspan></text>
</g>

<g id="act_ru_identitylink" class="tb" transform="translate(2023.5,1497)">
<rect class="b" width="186" height="107.3"/><line y1="14" x2="186" y2="14"/>
<text class="h" x="93" y="10.8">ACT_RU_IDENTITYLINK</text>
<text x="5" y="26"><tspan class="u">ID_</tspan><tspan x="5" dy="10.67">REV_</tspan><tspan x="5" dy="10.67">GROUP_ID_</tspan><tspan x="5" dy="10.67">TYPE_</tspan><tspan x="5" dy="10.67">USER_ID_</tspan><tspan x="5" dy="10.67">TASK_ID_</tspan><tspan x="5" dy="10.67">PROC_INST_ID_</tspan><tspan x="5" dy="10.67">PROC_DEF_ID_</tspan></text>
<text x="78" y="26"><tspan class="u">NVARCHAR2(64)</tspan><tspan x="78" dy="10.67">NUMBER</tspan><tspan x="78" dy="10.67">NVARCHAR2(255)</tspan><tspan x="78" dy="10.67">NVARCHAR2(255)</tspan><tspan x="78" dy="10.67">NVARCHAR2(255)</tspan><tspan x="78" dy="10.67">NVARCHAR2(64)</tspan><tspan x="78" dy="10.67">NVARCHAR2(64)</tspan><tspan x="78" dy="10.67">NVARCHAR2(64)</tspan></text>
<text x="156" y="26"><tspan class="u">&lt;pk&gt;</tspan><tspan x="156" y="79.33">&lt;fk3&gt;</tspan><tspan x="156" y="90">&lt;fk2&gt;</tspan><tspan x="156" y="100.67">&lt;fk1&gt;</tspan></text>
</g>

<g id="act_ru_variable" class="tb" transform="translate(1501.5,1737.5)">
<rect class="b" width="191" height="150"/><line y1="14" x2="191" y2="14"/>
<text class="h" x="95.5" y="10.8">ACT_RU_VARIABLE</text>
<text x="5" y="26"><tspan class="u">ID_</tspan><tspan x="5" dy="10.67">REV_</tspan><tspan x="5" dy="10.67">TYPE_</tspan><tspan x="5" dy="10.67">NAME_</tspan><tspan x="5" dy="10.67">EXECUTION_ID_</tspan><tspan x="5" dy="10.67">PROC_INST_ID_</tspan><tspan x="5" dy="10.67">TASK_ID_</tspan><tspan x="5" dy="10.67">BYTEARRAY_ID_</tspan><tspan x="5" dy="10.67">DOUBLE_</tspan><tspan x="5" dy="10.67">LONG_</tspan><tspan x="5" dy="10.67">TEXT_</tspan><tspan x="5" dy="10.67">TEXT2_</tspan></text>
<text x="78" y="26"><tspan class="u">NVARCHAR2(64)</tspan><tspan x="78" dy="10.67">NUMBER</tspan><tspan x="78" dy="10.67">NVARCHAR2(255)</tspan><tspan x="78" dy="10.67">NVARCHAR2(255)</tspan><tspan x="78" dy="10.67">NVARCHAR2(64)</tspan><tspan x="78" dy="10.67">NVARCHAR2(64)</tspan><tspan x="78" dy="10.67">NVARCHAR2(64)</tspan><tspan x="78" dy="10.67">NVARCHAR2(64)</tspan><tspan x="78" dy="10.67">NUMBER</tspan><tspan x="78" dy="10.67">NUMBER(19)</tspan><tspan x="78" dy="10.67">NVARCHAR2(2000)</tspan><tspan x="78" dy="10.67">NVARCHAR2(2000)</tspan></text>
<text x="161" y="26"><tspan class="u">&lt;pk&gt;</tspan><tspan x="161" y="68.67">&lt;fk2&gt;</tspan><tspan x="161" y="79.33">&lt;fk3&gt;</tspan><tspan x="161" y="100.67">&lt;fk1&gt;</tspan></text>
</g>

<g id="act_ru_event_subscr" class="tb" transform="translate(1761,1737.5)">
<rect class="b" width="186" height="118"/><line y1="14" x2="186" y2="14"/>
<text class="h" x="93" y="10.8">ACT_RU_EVENT_SUBSCR</text>
<text x="5" y="26"><tspan class="u">ID_</tspan><tspan x="5" dy="10.67">REV_</tspan><tspan x="5" dy="10.67">EVENT_TYPE_</tspan><tspan x="5" dy="10.67">EVENT_NAME_</tspan><tspan x="5" dy="10.67">EXECUTION_ID_</tspan><tspan x="5" dy="10.67">PROC_INST_ID_</tspan><tspan x="5" dy="10.67">ACTIVITY_ID_</tspan><tspan x="5" dy="10.67">CONFIGURATION_</tspan><tspan x="5" dy="10.67">CREATED_</tspan></text>
<text x="83" y="26"><tspan class="u">NVARCHAR2(64)</tspan><tspan x="83" dy="10.67">NUMBER</tspan><tspan x="83" dy="10.67">NVARCHAR2(255)</tspan><tspan x="83" dy="10.67">NVARCHAR2(255)</tspan><tspan x="83" dy="10.67">NVARCHAR2(64)</tspan><tspan x="83" dy="10.67">NVARCHAR2(64)</tspan><tspan x="83" dy="10.67">NVARCHAR2(64)</tspan><tspan x="83" dy="10.67">NVARCHAR2(255)</tspan><tspan x="83" dy="10.67">TIMESTAMP</tspan></text>
<text x="161" y="26"><tspan class="u">&lt;pk&gt;</tspan><tspan x="161" y="68.67">&lt;fk&gt;</tspan></text>
</g>

<g id="act_ge_bytearray" class="tb" transform="translate(1631.5,2021.5)">
<rect class="b" width="186" height="86"/><line y1="14" x2="186" y2="14"/>
<text class="h" x="93" y="10.8">ACT_GE_BYTEARRAY</text>
<text x="5" y="26"><tspan class="u">ID_</tspan><tspan x="5" dy="10.67">REV_</tspan><tspan x="5" dy="10.67">NAME_</tspan><tspan x="5" dy="10.67">DEPLOYMENT_ID_</tspan><tspan x="5" dy="10.67">BYTES_</tspan><tspan x="5" dy="10.67">GENERATED_</tspan></text>
<text x="83" y="26"><tspan class="u">NVARCHAR2(64)</tspan><tspan x="83" dy="10.67">NUMBER</tspan><tspan x="83" dy="10.67">NVARCHAR2(255)</tspan><tspan x="83" dy="10.67">NVARCHAR2(64)</tspan><tspan x="83" dy="10.67">BLOB</tspan><tspan x="83" dy="10.67">NUMBER(1)</tspan></text>
<text x="161" y="26"><tspan class="u">&lt;pk&gt;</tspan><tspan x="161" y="58">&lt;fk&gt;</tspan></text>
</g>

<g id="act_ru_job" class="tb" transform="translate(1320.5,2239.5)">
<rect class="b" width="221" height="192.7"/><line y1="14" x2="221" y2="14"/>
<text class="h" x="110.5" y="10.8">ACT_RU_JOB</text>
<text x="5" y="26"><tspan class="u">ID_</tspan><tspan x="5" dy="10.67">REV_</tspan><tspan x="5" dy="10.67">TYPE_</tspan><tspan x="5" dy="10.67">LOCK_EXP_TIME_</tspan><tspan x="5" dy="10.67">LOCK_OWNER_</tspan><tspan x="5" dy="10.67">EXCLUSIVE_</tspan><tspan x="5" dy="10.67">EXECUTION_ID_</tspan><tspan x="5" dy="10.67">PROCESS_INSTANCE_ID_</tspan><tspan x="5" dy="10.67">PROC_DEF_ID_</tspan><tspan x="5" dy="10.67">RETRIES_</tspan><tspan x="5" dy="10.67">EXCEPTION_STACK_ID_</tspan><tspan x="5" dy="10.67">EXCEPTION_MSG_</tspan><tspan x="5" dy="10.67">DUEDATE_</tspan><tspan x="5" dy="10.67">REPEAT_</tspan><tspan x="5" dy="10.67">HANDLER_TYPE_</tspan><tspan x="5" dy="10.67">HANDLER_CFG_</tspan></text>
<text x="113" y="26"><tspan class="u">NVARCHAR2(64)</tspan><tspan x="113" dy="10.67">NUMBER</tspan><tspan x="113" dy="10.67">NVARCHAR2(255)</tspan><tspan x="113" dy="10.67">TIMESTAMP</tspan><tspan x="113" dy="10.67">NVARCHAR2(255)</tspan><tspan x="113" dy="10.67">NUMBER(1)</tspan><tspan x="113" dy="10.67">NVARCHAR2(64)</tspan><tspan x="113" dy="10.67">NVARCHAR2(64)</tspan><tspan x="113" dy="10.67">NVARCHAR2(64)</tspan><tspan x="113" dy="10.67">NUMBER</tspan><tspan x="113" dy="10.67">NVARCHAR2(64)</tspan><tspan x="113" dy="10.67">NVARCHAR2(2000)</tspan><tspan x="113" dy="10.67">TIMESTAMP</tspan><tspan x="113" dy="10.67">NVARCHAR2(255)</tspan><tspan x="113" dy="10.67">NVARCHAR2(255)</tspan><tspan x="113" dy="10.67">NVARCHAR2(2000)</tspan></text>
<text x="196" y="26"><tspan class="u">&lt;pk&gt;</tspan><tspan x="196" y="132.67">&lt;fk&gt;</tspan></text>
</g>

<g id="act_re_model" class="tb" transform="translate(1610.5,2239.5)">
<rect class="b" width="273" height="150"/><line y1="14" x2="273" y2="14"/>
<text class="h" x="136.5" y="10.8">ACT_RE_MODEL</text>
<text x="5" y="26"><tspan class="u">ID_</tspan><tspan x="5" dy="10.67">REV_</tspan><tspan x="5" dy="10.67">NAME_</tspan><tspan x="5" dy="10.67">KEY_</tspan><tspan x="5" dy="10.67">CATEGORY_</tspan><tspan x="5" dy="10.67">CREATE_TIME_</tspan><tspan x="5" dy="10.67">LAST_UPDATE_TIME_</tspan><tspan x="5" dy="10.67">VERSION_</tspan><tspan x="5" dy="10.67">META_INFO_</tspan><tspan x="5" dy="10.67">DEPLOYMENT_ID_</tspan><tspan x="5" dy="10.67">EDITOR_SOURCE_VALUE_ID_</tspan><tspan x="5" dy="10.67">EDITOR_SOURCE_EXTRA_VALUE_ID_</tspan></text>
<text x="158" y="26"><tspan class="u">NVARCHAR2(64)</tspan><tspan x="158" dy="10.67">NUMBER</tspan><tspan x="158" dy="10.67">NVARCHAR2(255)</tspan><tspan x="158" dy="10.67">NVARCHAR2(255)</tspan><tspan x="158" dy="10.67">NVARCHAR2(255)</tspan><tspan x="158" dy="10.67">TIMESTAMP</tspan><tspan x="158" dy="10.67">TIMESTAMP</tspan><tspan x="158" dy="10.67">NUMBER</tspan><tspan x="158" dy="10.67">NVARCHAR2(2000)</tspan><tspan x="158" dy="10.67">NVARCHAR2(64)</tspan><tspan x="158" dy="10.67">NVARCHAR2(64)</tspan><tspan x="158" dy="10.67">NVARCHAR2(64)</tspan></text>
<text x="241" y="26"><tspan class="u">&lt;pk&gt;</tspan><tspan x="241" y="122">&lt;fk1&gt;</tspan><tspan x="241" y="132.67">&lt;fk2&gt;</tspan><tspan x="241" y="143.33">&lt;fk3&gt;</tspan></text>
</g>

<g id="act_re_deployment" class="tb" transform="translate(1951.5,2239.5)">
<rect class="b" width="176" height="64.7"/><line y1="14" x2="176" y2="14"/>
<text class="h" x="88" y="10.8">ACT_RE_DEPLOYMENT</text>
<text x="5" y="26"><tspan class="u">ID_</tspan><tspan x="5" dy="10.67">NAME_</tspan><tspan x="5" dy="10.67">CATEGORY_</tspan><tspan x="5" dy="10.67">DEPLOY_TIME_</tspan></text>
<text x="73" y="26"><tspan class="u">NVARCHAR2(64)</tspan><tspan x="73" dy="10.67">NVARCHAR2(255)</tspan><tspan x="73" dy="10.67">NVARCHAR2(255)</tspan><tspan x="73" dy="10.67">TIMESTAMP</tspan></text>
<text x="151" y="26"><tspan class="u">&lt;pk&gt;</tspan></text>
</g>
</svg>
